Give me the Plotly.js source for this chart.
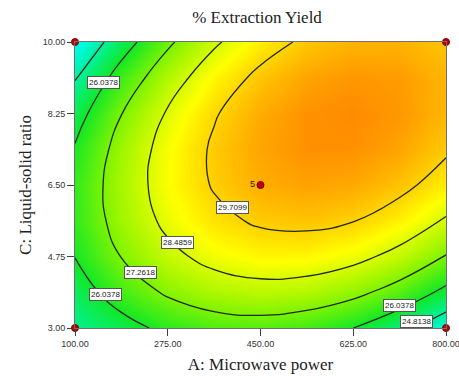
<!DOCTYPE html>
<html>
<head>
<meta charset="utf-8">
<script src="https://cdn.plot.ly/plotly-3.0.1.min.js"></script>
<style>html,body{margin:0;padding:0;background:#fff;}#chart{width:459px;height:376px;}</style>
</head>
<body>
<div id="chart"></div>
<script>
// A: Microwave power (grid columns)
const powerA = [100, 187.5, 275, 362.5, 450, 537.5, 625, 712.5, 800];
// C: Liquid-solid ratio (grid rows)
const ratioC = [3, 3.875, 4.75, 5.625, 6.5, 7.375, 8.25, 9.125, 10];
// % Extraction Yield, rows follow ratioC, columns follow powerA
const yieldZ = [
  [24.95, 25.61, 26.32, 26.72, 26.80, 26.57, 26.04, 25.19, 24.04],
  [25.47, 26.59, 27.41, 27.91, 28.10, 27.98, 27.55, 26.82, 25.77],
  [26.06, 27.29, 28.21, 28.82, 29.12, 29.11, 28.79, 28.16, 27.21],
  [26.37, 27.70, 28.73, 29.45, 29.85, 29.95, 29.74, 29.21, 28.38],
  [26.39, 27.83, 28.97, 29.79, 30.31, 30.51, 30.40, 29.98, 29.26],
  [26.13, 27.68, 28.92, 29.85, 30.47, 30.78, 30.78, 30.47, 29.85],
  [25.58, 27.24, 28.59, 29.63, 30.36, 30.77, 30.88, 30.68, 30.16],
  [24.75, 26.52, 27.97, 29.12, 29.95, 30.48, 30.69, 30.60, 30.19],
  [23.64, 25.51, 27.07, 28.33, 29.27, 29.90, 30.22, 30.23, 29.94]
];
// contour levels shown in the chart
const levels = [24.8138, 26.0378, 27.2618, 28.4859, 29.7099];
// contour label placements (A, C) and their level text
const labelA = [153, 157, 223, 293, 398, 713, 745];
const labelC = [9.02, 3.81, 4.35, 5.10, 5.94, 3.56, 3.15];
const labelText = ["26.0378", "26.0378", "27.2618", "28.4859", "29.7099", "26.0378", "24.8138"];
// design points
const designA = [100, 100, 800, 800, 450];
const designC = [3, 10, 3, 10, 6.5];
const centerLabel = "5";
const xTicks = [100, 275, 450, 625, 800];
const yTicks = [3, 4.75, 6.5, 8.25, 10];

const contour = {
  type: 'contour',
  x: powerA, y: ratioC, z: yieldZ,
  zmin: 23.6, zmax: 30.9,
  colorscale: [
    [0, '#00FFFF'], [0.15, '#00F2A8'], [0.33, '#12E826'], [0.52, '#88F400'],
    [0.74, '#FFFF00'], [0.87, '#FFC400'], [1, '#FF8A00']
  ],
  showscale: false,
  contours: {coloring: 'heatmap', start: levels[0], end: levels[levels.length - 1], size: (levels[levels.length - 1] - levels[0]) / (levels.length - 1)},
  line: {color: '#1e2a1e', width: 1.3, smoothing: 1.3},
  hoverinfo: 'skip'
};

const points = {
  type: 'scatter', mode: 'markers',
  x: designA, y: designC,
  marker: {color: '#c00000', size: 7, line: {color: '#800000', width: 1}},
  cliponaxis: false, hoverinfo: 'skip'
};

const annotations = labelText.map((t, i) => ({
  x: labelA[i], y: labelC[i], xref: 'x', yref: 'y', text: t, showarrow: false,
  font: {family: 'Arial, Liberation Sans, sans-serif', size: 8, color: '#222'},
  bgcolor: '#ffffff', bordercolor: '#555', borderwidth: 1, borderpad: 1
}));
annotations.push({
  x: designA[4], y: designC[4], xref: 'x', yref: 'y', text: centerLabel, showarrow: false,
  xshift: -8, yshift: 1, font: {family: 'Arial, Liberation Sans, sans-serif', size: 9, color: '#222'}
});

const axisCommon = {
  showgrid: false, zeroline: false, showline: true, linecolor: '#707070', linewidth: 1, mirror: true,
  ticks: 'outside', ticklen: 7, tickcolor: '#404040', tickwidth: 1,
  tickfont: {family: 'Arial, Liberation Sans, sans-serif', size: 9, color: '#333'},
  tickformat: '.2f', ticklabeloverflow: 'allow'
};

const layout = {
  width: 459, height: 376,
  margin: {l: 75, r: 13, t: 42, b: 48},
  paper_bgcolor: '#ffffff', plot_bgcolor: '#ffffff',
  showlegend: false,
  title: {text: '% Extraction Yield', x: 0.56, xanchor: 'center', y: 0.955, yanchor: 'middle',
    font: {family: 'Liberation Serif, Times New Roman, serif', size: 17, color: '#222'}},
  xaxis: Object.assign({}, axisCommon, {range: [100, 800], tickvals: xTicks,
    title: {text: 'A: Microwave power', standoff: 10, font: {family: 'Liberation Serif, Times New Roman, serif', size: 17, color: '#222'}}}),
  yaxis: Object.assign({}, axisCommon, {range: [3, 10], tickvals: yTicks,
    title: {text: 'C: Liquid-solid ratio', standoff: 6, font: {family: 'Liberation Serif, Times New Roman, serif', size: 17, color: '#222'}}}),
  annotations: annotations
};

Plotly.newPlot('chart', [contour, points], layout, {displayModeBar: false, staticPlot: true});
</script>
</body>
</html>
